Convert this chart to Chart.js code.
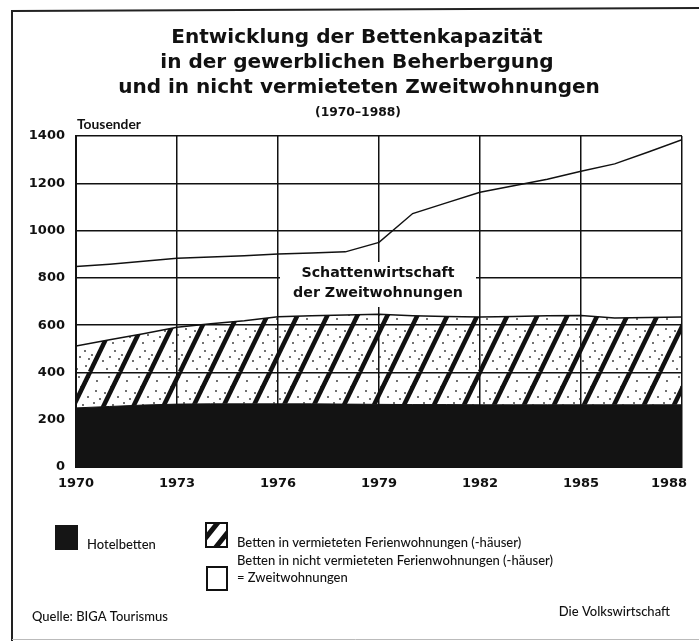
<!DOCTYPE html>
<html>
<head>
<meta charset="utf-8">
<script src="https://cdn.jsdelivr.net/npm/chart.js@4/dist/chart.umd.min.js"></script>
<style>
  html, body { margin: 0; padding: 0; background: #fff; }
  #wrap { width: 699px; height: 641px; }
</style>
</head>
<body>
<div id="wrap"><canvas id="chart" width="699" height="641"></canvas></div>
<script>
/***********************
 * DATA (Tausend Betten)
 ***********************/
const years = [1970, 1971, 1972, 1973, 1974, 1975, 1976, 1977, 1978, 1979,
               1980, 1981, 1982, 1983, 1984, 1985, 1986, 1987, 1988];
const hotelBetten     = [250, 256, 262, 266, 267, 267, 267, 267, 266, 265, 264, 264, 263, 263, 263, 263, 263, 263, 263];
const ferienwohnungen = [262, 282, 302, 325, 339, 352, 369, 373, 377, 381, 376, 373, 371, 374, 377, 378, 367, 369, 371];
const zweitwohnungen  = [336, 320, 306, 292, 282, 275, 265, 265, 267, 304, 432, 480, 528, 553, 577, 610, 652, 700, 750];
const xTicks = [1970, 1973, 1976, 1979, 1982, 1985, 1988];
const yTicks = [0, 200, 400, 600, 800, 1000, 1200, 1400];

const seriesNames = ["Hotelbetten", "Betten in vermieteten Ferienwohnungen (-häuser)",
                     "Betten in nicht vermieteten Ferienwohnungen (-häuser)"];
const titleLines = ["Entwicklung der Bettenkapazität", "in der gewerblichen Beherbergung",
                    "und in nicht vermieteten Zweitwohnungen"];

const HEAVY = '"DejaVu Sans", sans-serif';
const BOOK = '"Lato", "Open Sans", sans-serif';
const INK = "#111";

/***********************
 * HELPERS
 ***********************/
// font size so that text gets the wanted width
function fitFont(ctx, text, weight, family, width) {
    ctx.font = `${weight} 20px ${family}`;
    const size = 20 * width / ctx.measureText(text).width;
    return `${weight} ${size.toFixed(2)}px ${family}`;
}

function makeHatch() {
    const w = 30, h = 62;
    const c = document.createElement("canvas");
    c.width = w; c.height = h;
    const g = c.getContext("2d");
    g.strokeStyle = INK;
    g.lineWidth = 4.5;
    for (let k = -1; k <= 1; k++) {
        g.beginPath();
        g.moveTo(k * w, h);
        g.lineTo(k * w + w, 0);
        g.stroke();
    }
    // print speckle
    g.fillStyle = "rgba(20,20,20,0.6)";
    const dots = [[6, 8], [20, 14], [3, 30], [24, 40], [12, 50], [27, 24], [8, 44], [18, 4],
                  [2, 56], [25, 55], [14, 20], [5, 18], [22, 32], [10, 36], [28, 48], [16, 58],
                  [1, 44], [26, 8], [9, 26], [19, 46]];
    dots.forEach(([x, y]) => g.fillRect(x, y, 2, 2));
    return g.createPattern(c, "repeat");
}

const pts = arr => arr.map((v, i) => ({ x: years[i], y: v }));

/***********************
 * DECORATION PLUGIN
 ***********************/
const decor = {
    id: "decor",
    beforeDraw(chart) {
        const ctx = chart.ctx;
        ctx.save();
        ctx.fillStyle = "#fff";
        ctx.fillRect(0, 0, chart.width, chart.height);
        ctx.strokeStyle = "#222";
        ctx.lineWidth = 2;
        ctx.beginPath();
        ctx.moveTo(12, 641);
        ctx.lineTo(12, 11);
        ctx.lineTo(699, 8);
        ctx.stroke();
        ctx.strokeStyle = "#bbb";
        ctx.lineWidth = 1;
        ctx.beginPath();
        ctx.moveTo(12, 639.5);
        ctx.lineTo(699, 639.5);
        ctx.stroke();
        ctx.restore();
    },
    afterDatasetsDraw(chart) {
        const ctx = chart.ctx;
        ctx.save();
        ctx.fillStyle = "#fff";
        ctx.fillRect(280, 262, 196, 45);
        ctx.fillStyle = INK;
        ctx.textAlign = "center";
        ctx.textBaseline = "middle";
        ctx.font = fitFont(ctx, "der Zweitwohnungen", "bold", HEAVY, 170);
        ctx.fillText("Schattenwirtschaft", 378, 273);
        ctx.fillText("der Zweitwohnungen", 378, 293);
        ctx.restore();
    },
    afterDraw(chart) {
        const ctx = chart.ctx;
        ctx.save();
        ctx.fillStyle = INK;
        ctx.textAlign = "center";
        ctx.textBaseline = "middle";
        ctx.font = fitFont(ctx, titleLines[2], "bold", HEAVY, 482);
        ctx.fillText(titleLines[0], 357, 38);
        ctx.fillText(titleLines[1], 357, 63);
        ctx.fillText(titleLines[2], 359, 88);
        ctx.font = fitFont(ctx, "(1970–1988)", "bold", HEAVY, 86);
        ctx.fillText("(1970–1988)", 358, 113);

        ctx.textAlign = "left";
        ctx.font = fitFont(ctx, "Tousender", "bold", BOOK, 64);
        ctx.fillText("Tousender", 77, 125);

        // legend
        const ds = chart.data.datasets;
        ctx.fillStyle = "#151515";
        ctx.fillRect(55, 525, 23, 25);
        ctx.fillStyle = INK;
        ctx.font = "500 13px " + BOOK;
        ctx.fillText(ds[0].label, 87, 545);

        ctx.save();
        ctx.beginPath();
        ctx.rect(206, 523, 21, 24);
        ctx.clip();
        ctx.fillStyle = "#fff";
        ctx.fillRect(206, 523, 21, 24);
        ctx.strokeStyle = INK;
        ctx.lineWidth = 5;
        ctx.beginPath();
        ctx.moveTo(200, 545); ctx.lineTo(220, 520);
        ctx.moveTo(212, 552); ctx.lineTo(232, 527);
        ctx.stroke();
        ctx.restore();
        ctx.strokeStyle = INK;
        ctx.lineWidth = 2;
        ctx.strokeRect(206, 523, 21, 24);
        ctx.fillText(ds[1].label, 237, 543);

        ctx.strokeRect(207, 567, 20, 23);
        ctx.fillText(ds[2].label, 237, 561);
        ctx.fillText("= Zweitwohnungen", 237, 578);

        // footer
        ctx.fillText("Quelle: BIGA Tourismus", 32, 617);
        ctx.textAlign = "right";
        ctx.fillText("Die Volkswirtschaft", 670, 612);
        ctx.restore();
    }
};

/***********************
 * CHART
 ***********************/
new Chart(document.getElementById("chart"), {
    type: "line",
    data: {
        datasets: [
            { label: seriesNames[0], data: pts(hotelBetten), fill: "origin",
              backgroundColor: "#131313", borderColor: "#131313", borderWidth: 1, pointRadius: 0, tension: 0 },
            { label: seriesNames[1], data: pts(ferienwohnungen), fill: "-1",
              backgroundColor: makeHatch(), borderColor: INK, borderWidth: 1.5, pointRadius: 0, tension: 0 },
            { label: seriesNames[2], data: pts(zweitwohnungen), fill: false,
              borderColor: INK, borderWidth: 1.5, pointRadius: 0, tension: 0 }
        ]
    },
    options: {
        responsive: false,
        devicePixelRatio: 1,
        animation: false,
        layout: { padding: { top: 136, left: 0, right: 17, bottom: 142 } },
        plugins: { legend: { display: false }, title: { display: false }, tooltip: { enabled: false } },
        scales: {
            x: {
                type: "linear",
                min: 1970, max: 1988,
                afterBuildTicks: s => { s.ticks = xTicks.map(v => ({ value: v })); },
                afterFit: s => { s.height = 32; s.paddingLeft = 0; s.paddingRight = 0; },
                grid: { color: INK, lineWidth: 1.5, drawTicks: false },
                border: { color: INK, width: 2 },
                ticks: { padding: 9, color: INK, font: { family: HEAVY, size: 13, weight: "bold" },
                         maxRotation: 0,
                         callback: v => v === 1988 ? "1988\u2003\u2003" : String(v) }
            },
            y: {
                stacked: true,
                min: 0, max: 1400,
                afterBuildTicks: s => { s.ticks = yTicks.map(v => ({ value: v })); },
                afterFit: s => { s.width = 76; },
                grid: { color: INK, lineWidth: 1.5, drawTicks: false },
                border: { color: INK, width: 2 },
                ticks: { padding: 11, color: INK, font: { family: HEAVY, size: 13, weight: "bold" },
                         callback: v => String(v) }
            }
        }
    },
    plugins: [decor]
});
</script>
</body>
</html>
